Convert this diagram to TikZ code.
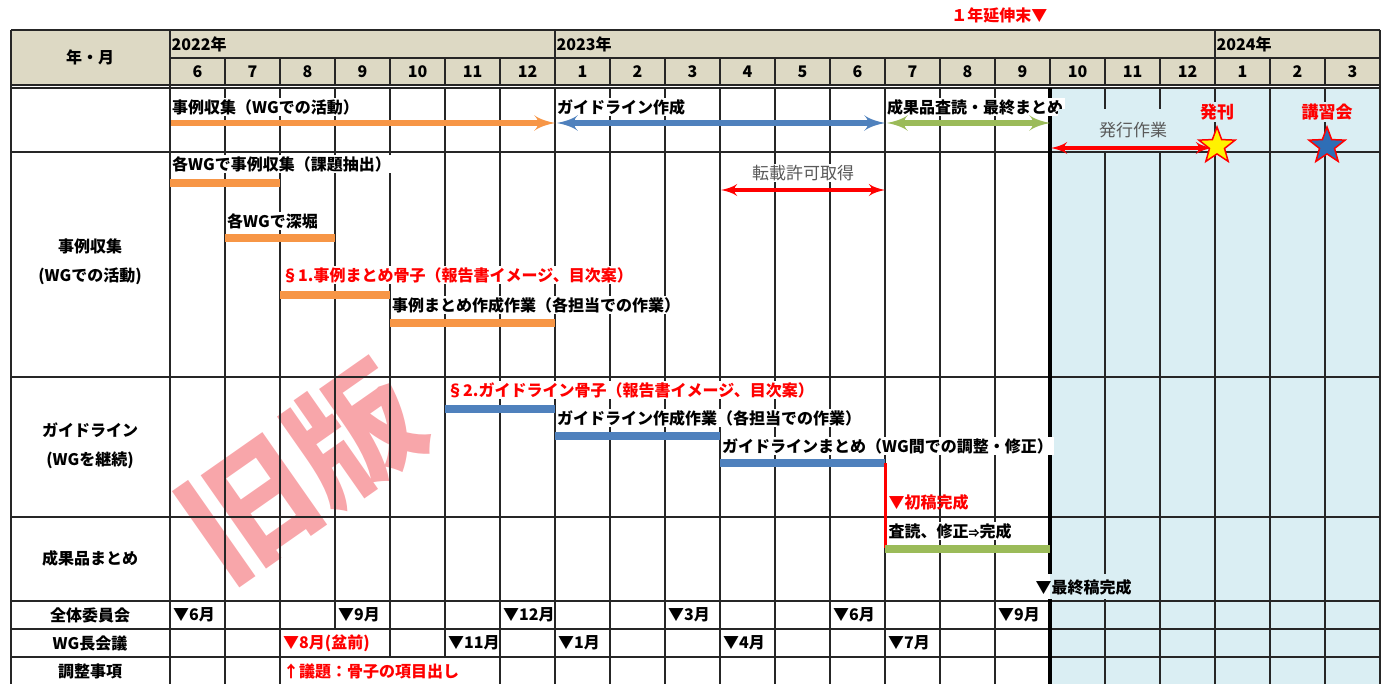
\documentclass[tikz,border=0pt]{standalone}
\usepackage{fontspec}
\setmainfont{Noto Sans CJK JP}
\usepackage{tikz}
\usetikzlibrary{arrows,shapes.geometric}
\definecolor{hdr}{RGB}{221,217,196}
\definecolor{extbg}{RGB}{218,238,243}
\definecolor{orng}{RGB}{247,150,70}
\definecolor{blu}{RGB}{79,129,189}
\definecolor{grn}{RGB}{155,187,89}
\definecolor{gtxt}{RGB}{89,89,89}
\definecolor{wmark}{RGB}{248,166,170}
\definecolor{starblue}{RGB}{46,110,182}

\begin{document}
\begin{tikzpicture}[x=1pt,y=-1pt,>=latex',
 grid/.style={line width=1.1pt,black!85},
 txt/.style={font=\bfseries\fontsize{16}{18}\selectfont,inner sep=1.5pt},
 task/.style={txt,anchor=west,fill=white},
 evt/.style={txt,anchor=west},
 rowhead/.style={txt,align=center,font=\bfseries\fontsize{16}{29}\selectfont},
 hint/.style={font=\fontsize{17}{20}\selectfont,text=gtxt,inner sep=1.5pt},
 big/.style={txt,text=red,font=\bfseries\fontsize{17}{20}\selectfont,fill=extbg},
 flow/.style={line width=6pt},
 bar/.style={line width=8pt},
 star5/.style={star,star points=5,star point ratio=2.4,minimum size=38pt,inner sep=0pt,draw=red,line width=1.5pt}]
\useasboundingbox (0,0) rectangle (1389,684);

% watermark
\node[rotate=35,text=wmark,font=\bfseries\fontsize{128}{128}\selectfont] (old) at (302,470) {旧版};

% header + extension area
\fill[hdr] (11,30) rectangle (1380,85);
\fill[extbg] (1050,88) rectangle (1380,684);

% grid
\draw[grid] (11,30) -- (1380,30);
\draw[grid] (170,58) -- (1380,58);
\foreach \y in {85,88,152,377,517,601,629,657} \draw[grid] (11,\y) -- (1380,\y);
\foreach \x in {11,170,1380} \draw[grid] (\x,30) -- (\x,684);
\foreach \i in {7,19} \draw[grid] ({170+55*\i},30) -- ({170+55*\i},58);
\foreach \i in {1,...,21} \draw[grid] ({170+55*\i},58) -- ({170+55*\i},85);
\foreach \i in {1,2,3,4,5,6,7,8,9,10,11,12,13,14,15,17,18,19,20,21}
 \draw[grid] ({170+55*\i},88) -- ({170+55*\i},629);
\foreach \i in {1,2,4,5,6,7,8,9,10,11,12,13,14,15,17,18,19,20,21}
 \draw[grid] ({170+55*\i},629) -- ({170+55*\i},657);
\foreach \i in {1,2,6,7,8,9,10,11,12,13,14,15,17,18,19,20,21}
 \draw[grid] ({170+55*\i},657) -- ({170+55*\i},684);
\draw[line width=3.5pt] (1050,88) -- (1050,684);
% \draw[grid] (1105,88) -- (1105,684);

% header texts
\node[txt] (ym) at (90,57) {年・月};
\node[txt,anchor=west] (y22) at (170,44) {2022年};
\node[txt,anchor=west] (y23) at (555,44) {2023年};
\node[txt,anchor=west] (y24) at (1215,44) {2024年};
\foreach \m [count=\i from 0] in {6,7,8,9,10,11,12,1,2,3,4,5,6,7,8,9,10,11,12,1,2,3}
 \node[txt] (m\i) at ({197.5+55*\i},72) {\m};
\node[txt,text=red,anchor=east] (ext) at (1049,15) {１年延伸末▼};

% row heads
\node[rowhead] (h1) at (90,262) {事例収集\\(WGでの活動)};
\node[rowhead] (h2) at (90,446) {ガイドライン\\(WGを継続)};
\node[rowhead] (h3) at (90,558) {成果品まとめ};
\node[rowhead] (h4) at (90,615) {全体委員会};
\node[rowhead] (h5) at (90,643) {WG長会議};
\node[rowhead] (h6) at (90,671) {調整事項};

% overview
\node[task] (t1) at (170.5,107) {事例収集（WGでの活動）};
\node[task] (t2) at (555.5,107) {ガイドライン作成};
\node[task] (t3) at (885.5,107) {成果品査読・最終まとめ};
\node[hint,fill=extbg,minimum width=150pt,minimum height=42pt] (t4) at (1133,130) {発行作業};
\node[big] (t5) at (1217,112) {発刊};
\node[big] (t6) at (1327,112) {講習会};

% case collection
\node[task] (c1) at (170.5,164) {各WGで事例収集（課題抽出）};
\node[task] (c2) at (225.5,221) {各WGで深堀};
\node[task,text=red] (c3) at (280.5,275) {§1.事例まとめ骨子（報告書イメージ、目次案）};
\node[task] (c4) at (390.5,305) {事例まとめ作成作業（各担当での作業）};
\node[hint,fill=white] (c5) at (803,173) {転載許可取得};

% guideline
\node[task,text=red] (g1) at (445.5,390) {§2.ガイドライン骨子（報告書イメージ、目次案）};
\node[task] (g2) at (555.5,418) {ガイドライン作成作業（各担当での作業）};
\node[task] (g3) at (720.5,446) {ガイドラインまとめ（WG間での調整・修正）};
\node[evt,text=red] (g4) at (887,502) {▼初稿完成};

% results
\node[task] (r1) at (887,531) {査読、修正{\fontsize{11}{11}\selectfont ⇒}完成};
\fill[white] (1033,574) rectangle (1050,599);
\fill[extbg] (1050,574) rectangle (1135,599);
\node[evt] (r2) at (1034,587) {▼最終稿完成};

% meetings
\foreach \c/\m in {0/6,3/9,6/12,9/3,12/6,15/9}
 \node[evt] (z\c) at ({171.5+55*\c},615) {▼{\m}月};
\node[evt,text=red] (w2) at (281.5,643) {▼8月(盆前)};
\foreach \c/\m in {5/11,7/1,10/4,13/7}
 \node[evt] (w\c) at ({171.5+55*\c},643) {▼{\m}月};
\node[evt,text=red] (a2) at (281.5,671) {↑議題：骨子の項目出し};

% arrows and bars
\draw[flow,orng,->] (171,123) -- (555,123);
\draw[flow,blu,<->] (557,123) -- (885,123);
\draw[flow,grn,<->] (887,123) -- (1050,123);
\draw[line width=4.5pt,red,<->] (1051,148) -- (1212,148);
\draw[line width=4.5pt,red,<->] (721,190) -- (885,190);
\draw[bar,orng] (170,183) -- (280,183);
\draw[bar,orng] (225,238) -- (335,238);
\draw[bar,orng] (280,295) -- (390,295);
\draw[bar,orng] (390,323) -- (555,323);
\draw[bar,blu] (445,409) -- (555,409);
\draw[bar,blu] (555,436) -- (720,436);
\draw[bar,blu] (720,463) -- (885,463);
\draw[line width=3pt,red] (885,463) -- (885,548);
\draw[bar,grn] (885,549) -- (1050,549);

% milestones
\node[star5,fill=yellow] (s1) at (1217,146) {};
\node[star5,fill=starblue] (s2) at (1327,146) {};
\end{tikzpicture}
\end{document}
